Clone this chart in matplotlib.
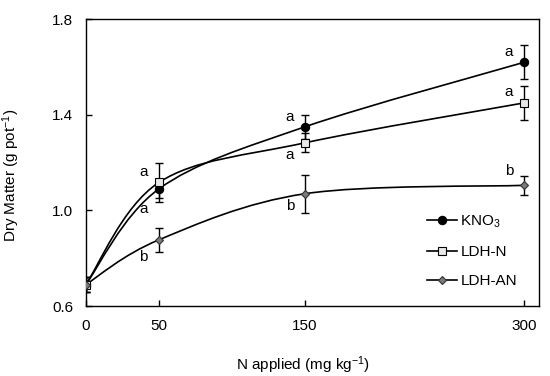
import matplotlib
matplotlib.use('Agg')
import matplotlib.pyplot as plt
from matplotlib.path import Path
from matplotlib.patches import PathPatch
from matplotlib.lines import Line2D

plt.rcParams['font.family'] = ['Liberation Sans', 'DejaVu Sans']
plt.rcParams['font.size'] = 11
plt.rcParams['mathtext.default'] = 'regular'

# data
n_applied = [0, 50, 150, 300]
kno3 = [0.69, 1.09, 1.35, 1.62]
kno3_err = [0.03, 0.04, 0.05, 0.07]
ldh_n = [0.69, 1.117, 1.283, 1.45]
ldh_n_err = [0.03, 0.08, 0.04, 0.07]
ldh_an = [0.69, 0.877, 1.07, 1.105]
ldh_an_err = [0.03, 0.05, 0.08, 0.04]

kno3_letters = ['', 'a', 'a', 'a']
ldh_n_letters = ['', 'a', 'a', 'a']
ldh_an_letters = ['', 'b', 'b', 'b']
# vertical offset of each letter from its point
kno3_dy = [0, -0.086, 0.04, 0.042]
ldh_n_dy = [0, 0.042, -0.05, 0.046]
ldh_an_dy = [0, -0.073, -0.053, 0.062]


def smooth_path(x, y):
    # excel style smoothed line: cubic bezier through the points
    px = [x[0]] + list(x) + [x[-1]]
    py = [y[0]] + list(y) + [y[-1]]
    verts = [(x[0], y[0])]
    codes = [Path.MOVETO]
    for i in range(1, len(px) - 2):
        c1 = (px[i] + (px[i + 1] - px[i - 1]) / 6, py[i] + (py[i + 1] - py[i - 1]) / 6)
        c2 = (px[i + 1] - (px[i + 2] - px[i]) / 6, py[i + 1] - (py[i + 2] - py[i]) / 6)
        verts += [c1, c2, (px[i + 1], py[i + 1])]
        codes += [Path.CURVE4] * 3
    return Path(verts, codes)


fig = plt.figure(figsize=(5.5, 3.76), dpi=100)
ax = fig.add_axes([0.156, 0.186, 0.824, 0.763])

series = [
    (kno3, kno3_err, kno3_letters, kno3_dy, dict(marker='o', ms=6, mfc='black', mec='black'), 'KNO$_3$'),
    (ldh_n, ldh_n_err, ldh_n_letters, ldh_n_dy, dict(marker='s', ms=5.5, mfc='#e8e8e8', mec='black'), 'LDH-N'),
    (ldh_an, ldh_an_err, ldh_an_letters, ldh_an_dy, dict(marker='D', ms=4, mfc='#7a7a7a', mec='#333333'), 'LDH-AN'),
]

handles = []
for y, err, letters, dy, style, label in series:
    ax.add_patch(PathPatch(smooth_path(n_applied, y), fill=False, ec='black', lw=1.2, zorder=2))
    ax.errorbar(n_applied, y, yerr=err, fmt='none', ecolor='black', elinewidth=1,
                capsize=2.8, capthick=1, zorder=3)
    ax.plot(n_applied, y, ls='none', zorder=4, mew=0.8, **style)
    for xi, yi, t, d in zip(n_applied, y, letters, dy):
        if t:
            ax.text(xi - 10.5, yi + d, t, ha='center', va='center', fontsize=11)
    handles.append(Line2D([], [], color='black', lw=1.2, mew=0.8, label=label, **style))

ax.set_xlim(0, 310)
ax.set_ylim(0.6, 1.8)
ax.set_xticks(n_applied)
ax.set_yticks([0.6, 1.0, 1.4, 1.8])
ax.set_yticklabels(['0.6', '1.0', '1.4', '1.8'])
ax.tick_params(direction='in', length=4, width=1, pad=9)
for sp in ax.spines.values():
    sp.set_linewidth(1)

ax.set_xlabel('N applied (mg kg$^{-1}$)')
ax.set_ylabel('Dry Matter (g pot$^{-1}$)')
ax.xaxis.set_label_coords(0.48, -0.17)
ax.yaxis.set_label_coords(-0.14, 0.455)

ax.legend(handles=handles, loc='lower right', bbox_to_anchor=(0.965, 0.04), frameon=False,
          handlelength=2.0, handletextpad=0.2, labelspacing=1.0, borderaxespad=0)

fig.savefig('out.png', dpi=100)
